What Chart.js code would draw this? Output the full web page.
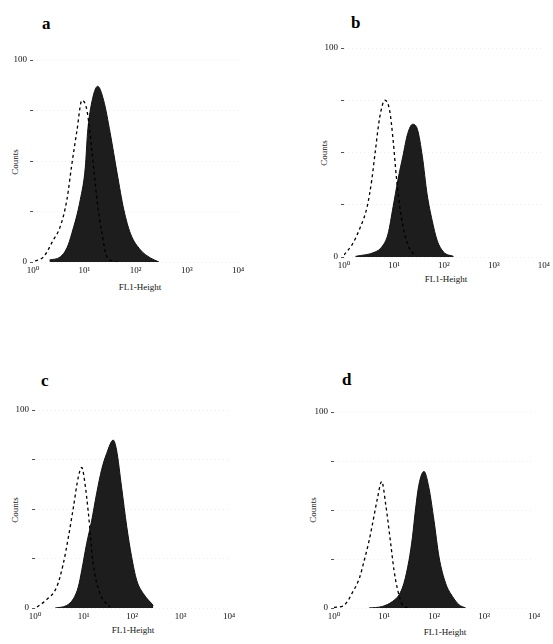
<!DOCTYPE html>
<html>
<head>
<meta charset="utf-8">
<script src="https://cdn.jsdelivr.net/npm/chart.js@4.4.1/dist/chart.umd.min.js"></script>
<style>
  html, body { margin: 0; padding: 0; background: #fff; }
  #page { position: relative; width: 553px; height: 644px; overflow: hidden; background: #fff;
          font-family: "Liberation Serif", "DejaVu Serif", serif; }
  .panel { position: absolute; }
  .letter { position: absolute; font-weight: bold; font-size: 17px; line-height: 1; }
  .xt { position: absolute; font-size: 9px; line-height: 1; white-space: nowrap; transform: translateX(-50%); color: #111; }
  .yt { position: absolute; font-size: 9px; line-height: 1; white-space: nowrap; transform: translate(-50%, -50%) rotate(-90deg); color: #111; }
</style>
</head>
<body>
<div id="page">
  <div class="letter" style="left:42px; top:15px;">a</div>
  <div class="letter" style="left:351px; top:14px;">b</div>
  <div class="letter" style="left:41px; top:372px;">c</div>
  <div class="letter" style="left:342px; top:371px;">d</div>

  <div class="yt" style="left:15px; top:162px;">Counts</div>
  <div class="yt" style="left:324px; top:153px;">Counts</div>
  <div class="yt" style="left:15px; top:510px;">Counts</div>
  <div class="yt" style="left:313px; top:510px;">Counts</div>

  <div class="xt" style="left:140px; top:283px;">FL1-Height</div>
  <div class="xt" style="left:446px; top:275px;">FL1-Height</div>
  <div class="xt" style="left:133px; top:626px;">FL1-Height</div>
  <div class="xt" style="left:445px; top:628px;">FL1-Height</div>

  <div class="panel" style="left:3px; top:50px; width:247px; height:242px;"><canvas id="ca" width="247" height="242"></canvas></div>
  <div class="panel" style="left:314px; top:38px; width:239px; height:249px;"><canvas id="cb" width="239" height="249"></canvas></div>
  <div class="panel" style="left:5px; top:400px; width:236px; height:238px;"><canvas id="cc" width="236" height="238"></canvas></div>
  <div class="panel" style="left:304px; top:402px; width:242px; height:236px;"><canvas id="cd" width="242" height="236"></canvas></div>
</div>
<script>
// ---- axis ticks ----
const tickValues = [1, 10, 100, 1000, 10000];
const tickLabels = ['10\u2070', '10\u00b9', '10\u00b2', '10\u00b3', '10\u2074'];
const yMax = 100;

// ---- panel a ----
const aFillX = [2.1, 3.4, 4.6, 5.7, 8.4, 10.5, 11.6, 13.1, 18.3, 23.9, 32, 43.7, 59, 80, 125, 196, 287];
const aFillY = [1, 2.5, 7, 14, 31, 47, 64, 75, 87, 80, 64, 44, 26, 14, 6, 2, 0];
const aCtrlX = [1.1, 1.6, 2.5, 3.4, 4.6, 5.7, 7.2, 9.0, 11.3, 14.1, 17.7, 22.2, 27.9, 43.7];
const aCtrlY = [0.5, 2.5, 11, 17.5, 31, 48, 65, 80, 75, 55, 31, 14, 2.5, 0];

// ---- panel b ----
const bFillX = [1.7, 4.2, 5.7, 7.6, 9.6, 12, 15, 18.8, 23.6, 29.5, 37, 46, 58, 73, 98, 155];
const bFillY = [0.3, 2.4, 4.8, 11, 24, 37, 48, 59, 63.5, 61, 48, 30, 17.5, 8, 2.4, 0.3];
const bCtrlX = [1.0, 1.46, 2.1, 2.9, 3.6, 4.2, 5.2, 6.6, 8.2, 9.6, 11.2, 14, 18.8, 25.5];
const bCtrlY = [1, 6, 14, 24, 37, 50, 67, 75, 70, 56, 38, 19, 6, 1];

// ---- panel c ----
const cFillX = [2.6, 4.5, 6.2, 7.8, 9.2, 11.6, 14.7, 18.7, 23.7, 30, 41, 48, 61, 78, 98, 125, 171, 275];
const cFillY = [0, 1.3, 4.7, 10.6, 19, 32.5, 44, 58, 70, 78, 84.8, 79.8, 61, 41, 26, 14, 7.3, 1.3];
const cCtrlX = [1.1, 1.7, 2.8, 3.8, 4.9, 6.2, 7.8, 9.2, 10.7, 12.6, 15.9, 21.9, 35];
const cCtrlY = [0.5, 4, 10.6, 22, 36, 51, 66, 71, 63, 48, 22, 7.3, 0.5];

// ---- panel d ----
const dFillX = [5.0, 9.3, 14.7, 20, 25, 31.6, 37, 43, 50, 63, 79, 100, 126, 171, 234, 316, 430];
const dFillY = [0, 0.8, 3.3, 6.7, 12.6, 24.3, 36, 51, 63, 69.7, 61.4, 44.6, 26, 12.6, 5.9, 1.7, 0];
const dCtrlX = [1.0, 1.5, 1.85, 2.3, 3.2, 4.0, 5.0, 5.9, 7.4, 9.0, 10.8, 13.6, 15.8, 18.6, 23.3, 30];
const dCtrlY = [0.3, 1, 3.3, 7.6, 15, 24, 34, 43, 56, 64.6, 53, 33, 19.5, 9.6, 1.7, 0];

function pts(xs, ys) { return xs.map((x, i) => ({ x: x, y: ys[i] })); }

const serif = '"Liberation Serif", "DejaVu Serif", serif';

function makePanel(id, fx, fy, cx, cy, padRight) {
  new Chart(document.getElementById(id), {
    type: 'line',
    data: {
      datasets: [
        { label: 'control', data: pts(cx, cy), borderColor: '#000', borderWidth: 1.3,
          borderDash: [3, 3], pointRadius: 0, fill: false, cubicInterpolationMode: 'monotone' },
        { label: 'stained', data: pts(fx, fy), borderColor: '#111', backgroundColor: '#1d1d1d',
          borderWidth: 1, pointRadius: 0, fill: 'origin', cubicInterpolationMode: 'monotone' }
      ]
    },
    options: {
      responsive: false,
      animation: false,
      layout: { padding: { top: 10, right: padRight, left: 0, bottom: 0 }, autoPadding: false },
      plugins: { legend: { display: false }, tooltip: { enabled: false } },
      scales: {
        x: {
          type: 'logarithmic', min: 1, max: 10000,
          afterBuildTicks: s => { s.ticks = tickValues.map(v => ({ value: v })); },
          afterFit: s => { s.height = 30; },
          ticks: { autoSkip: false, maxRotation: 0, padding: 3, color: '#111',
                   font: { family: serif, size: 9 },
                   callback: v => { const i = tickValues.indexOf(v); return i >= 0 ? tickLabels[i] : ''; } },
          grid: { display: false, drawTicks: false },
          border: { display: false }
        },
        y: {
          min: 0, max: yMax,
          afterFit: s => { s.width = 30; },
          ticks: { stepSize: 25, padding: 3, color: '#111', font: { family: serif, size: 9 },
                   callback: v => (v === 0 ? '0' : (v === yMax ? String(yMax) : '')) },
          grid: { color: '#eeeeee', tickLength: 3, tickColor: '#555' },
          border: { display: false, dash: [1, 3] }
        }
      }
    }
  });
}

makePanel('ca', aFillX, aFillY, aCtrlX, aCtrlY, 12);
makePanel('cb', bFillX, bFillY, bCtrlX, bCtrlY, 5);
makePanel('cc', cFillX, cFillY, cCtrlX, cCtrlY, 12);
makePanel('cd', dFillX, dFillY, dCtrlX, dCtrlY, 12);
</script>
</body>
</html>
